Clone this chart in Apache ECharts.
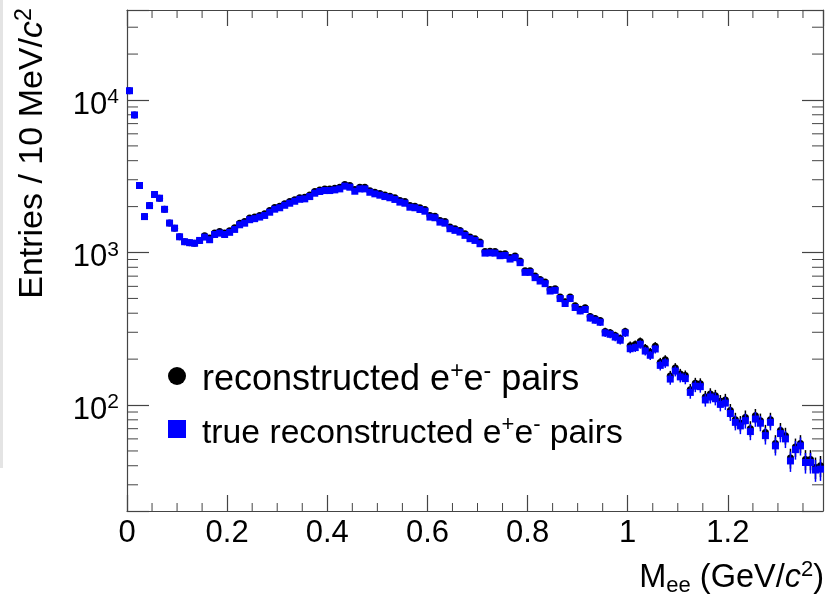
<!DOCTYPE html>
<html><head><meta charset="utf-8">
<script src="https://cdn.jsdelivr.net/npm/echarts@6/dist/echarts.min.js"></script>
<style>html,body{margin:0;padding:0;background:#fff}#c{width:827px;height:597px}</style>
</head><body><div id="c"></div>
<script>
// ---- data (entries per 10 MeV/c^2 bin) ----
const binWidth = 0.01;
const trueVals = [11500,7980,2750,1720,2030,2400,2270,1920,1560,1445,
1268,1177,1160,1150,1200,1262,1213,1312,1339,1312,
1356,1417,1520,1557,1641,1667,1707,1750,1837,1923,
1965,2040,2104,2168,2233,2248,2327,2448,2511,2548,
2548,2574,2613,2723,2680,2522,2613,2613,2483,2425,
2376,2327,2285,2228,2140,2104,1982,1965,1915,1866,
1707,1690,1582,1557,1432,1397,1362,1295,1232,1200,
1142,991,995,991,953,957,906,925,858,741,
741,684,650,625,559,565,499,463,499,436,
414,423,372,360,349,297,291,279,266,297,
234,238,250,226,212,233,182,189,148,167,
153,149,121,133,132,108,113,110,101,103,
88,77,73,79,67,81,76,63,77,54,
65,60,43,51,54,42,42,37.5,38];
const recoVals = [11500,7980,2750,1720,2030,2400,2270,1920,1560,1445,
1268,1177,1160,1150,1200,1290,1243,1345,1372,1345,
1390,1452,1558,1596,1682,1709,1750,1794,1883,1971,
2014,2091,2157,2222,2289,2304,2385,2509,2574,2612,
2612,2638,2678,2791,2747,2585,2678,2678,2545,2486,
2435,2385,2342,2284,2194,2157,2032,2014,1963,1913,
1750,1732,1622,1596,1468,1432,1396,1327,1263,1230,
1171,1016,1020,1016,977,981,929,948,879,760,
760,701,666,641,573,579,511,475,511,447,
424,434,381,369,358,304,298,286,273,304,
245,249,261,236,222,243,190,198,155,175,
160,156,126,139,138,113,118,115,106,108,
92,80,76,83,70,85,79,66,80,56,
68,63,45,53,56,44,44,39,40];
const xCenters = trueVals.map((_, i) => +(binWidth * (i + 0.5)).toFixed(3));
const xTickLabels = ['0', '0.2', '0.4', '0.6', '0.8', '1', '1.2'];
const xMinorTicks = [0.05,0.1,0.15,0.25,0.3,0.35,0.45,0.5,0.55,0.65,0.7,0.75,0.85,0.9,0.95,1.05,1.1,1.15,1.25,1.3,1.35];
const yMinorTicks = [30,40,50,60,70,80,90,200,300,400,500,600,700,800,900,2000,3000,4000,5000,6000,7000,8000,9000,20000,30000];
const seriesNames = ['reconstructed e+e- pairs', 'true reconstructed e+e- pairs'];
const legendRich = {
  'reconstructed e+e- pairs': '{a|reconstructed e}{as|+}{a|e}{as|-}{a| pairs}',
  'true reconstructed e+e- pairs': '{b|true reconstructed e}{bs|+}{b|e}{bs|-}{b| pairs}'
};

const X_MIN = 0, X_MAX = 1.39, Y_MIN = 20.2, Y_MAX = 38900;
const FONT = "'Liberation Sans', Arial, Helvetica, sans-serif";
const frameColor = '#444';

const pts = vals => vals.map((v, i) => [xCenters[i], v]);
const errs = vals => vals.map((v, i) => [xCenters[i], v - Math.sqrt(v), v + Math.sqrt(v)]);

function errRender(color) {
  return function (params, api) {
    const x = api.value(0);
    const p1 = api.coord([x, api.value(1)]);
    const p2 = api.coord([x, api.value(2)]);
    return { type: 'line', shape: { x1: p1[0], y1: p1[1], x2: p2[0], y2: p2[1] },
      style: { stroke: color, lineWidth: 1.5 } };
  };
}
function yMinorRender(params, api) {
  const cs = params.coordSys;
  const p = api.coord([X_MIN, api.value(1)]);
  const st = { stroke: frameColor, lineWidth: 1 };
  return { type: 'group', children: [
    { type: 'line', shape: { x1: cs.x, y1: p[1], x2: cs.x + 11, y2: p[1] }, style: st },
    { type: 'line', shape: { x1: cs.x + cs.width - 11, y1: p[1], x2: cs.x + cs.width, y2: p[1] }, style: st }
  ]};
}
function xMinorRender(params, api) {
  const cs = params.coordSys;
  const p = api.coord([api.value(0), Y_MIN]);
  const st = { stroke: frameColor, lineWidth: 1 };
  const yb = cs.y + cs.height;
  return { type: 'group', children: [
    { type: 'line', shape: { x1: p[0], y1: yb, x2: p[0], y2: yb - 8 }, style: st },
    { type: 'line', shape: { x1: p[0], y1: cs.y, x2: p[0], y2: cs.y + 8 }, style: st }
  ]};
}

const lineStyle = { color: frameColor, width: 1.2 };
const chart = echarts.init(document.getElementById('c'), null, { renderer: 'canvas' });
chart.setOption({
  animation: false,
  backgroundColor: '#fff',
  textStyle: { fontFamily: FONT },
  graphic: [{ type: 'rect', shape: { x: 0, y: 0, width: 3, height: 468 }, style: { fill: '#e4e4e4' }, silent: true }],
  grid: { left: 127, right: 3, top: 10, bottom: 86 },
  legend: {
    orient: 'vertical', left: 168, top: 351.5, padding: 0,
    itemWidth: 18, itemHeight: 18, itemGap: 4,
    data: [{ name: seriesNames[0], icon: 'circle' }, { name: seriesNames[1], icon: 'rect' }],
    formatter: n => legendRich[n],
    selectedMode: false,
    textStyle: { fontFamily: FONT, fontSize: 35, color: '#000', lineHeight: 40, padding: [9, 0, 0, 11],
      rich: {
        a: { fontFamily: FONT, fontSize: 36, color: '#000', lineHeight: 40 },
        as: { fontFamily: FONT, fontSize: 23, color: '#000', verticalAlign: 'top', lineHeight: 24 },
        b: { fontFamily: FONT, fontSize: 33.7, color: '#000', lineHeight: 40 },
        bs: { fontFamily: FONT, fontSize: 22, color: '#000', verticalAlign: 'top', lineHeight: 24 }
      } }
  },
  xAxis: [{
    type: 'value', min: X_MIN, max: X_MAX, interval: 0.2, position: 'bottom',
    axisLine: { show: true, onZero: false, lineStyle },
    axisTick: { show: true, inside: true, length: 16, lineStyle },
    splitLine: { show: false },
    axisLabel: { fontFamily: FONT, fontSize: 31, color: '#000', margin: 7, lineHeight: 30, showMaxLabel: false,
      formatter: v => { const k = Math.round(v / 0.2); return Math.abs(v - k * 0.2) < 1e-6 ? (xTickLabels[k] || '') : ''; } },
    name: 'M{sub|ee} (GeV/{it|c}{sup|2})', nameLocation: 'end', nameGap: 1, nameMoveOverlap: false,
    nameTextStyle: { fontFamily: FONT, fontSize: 32.5, color: '#000', align: 'right', verticalAlign: 'top',
      lineHeight: 38, padding: [48, 0, 0, 0],
      rich: { sub: { fontFamily: FONT, fontSize: 22, color: '#000', verticalAlign: 'bottom', lineHeight: 22 },
              sup: { fontFamily: FONT, fontSize: 22, color: '#000', verticalAlign: 'top', lineHeight: 22 },
              it: { fontFamily: FONT, fontSize: 32.5, color: '#000', fontStyle: 'italic', lineHeight: 38 } } }
  }, {
    type: 'value', min: X_MIN, max: X_MAX, interval: 0.2, position: 'top',
    axisLine: { show: true, onZero: false, lineStyle },
    axisTick: { show: true, inside: true, length: 16, lineStyle },
    axisLabel: { show: false }, splitLine: { show: false }
  }],
  yAxis: [{
    type: 'log', min: Y_MIN, max: Y_MAX, position: 'left',
    axisLine: { show: true, onZero: false, lineStyle },
    axisTick: { show: true, inside: true, length: 22, lineStyle },
    splitLine: { show: false },
    axisLabel: { fontFamily: FONT, fontSize: 31, color: '#000', margin: 8, lineHeight: 36, padding: [10, 0, 0, 0],
      formatter: v => { const e = Math.log10(v); return Math.abs(e - Math.round(e)) < 1e-6 ? '10{sup|' + Math.round(e) + '}' : ''; },
      rich: { sup: { fontFamily: FONT, fontSize: 21, color: '#000', verticalAlign: 'top', lineHeight: 20 } } },
    name: 'Entries / 10 MeV/{it|c}{sup|2}', nameLocation: 'middle', nameRotate: 90, nameGap: 74, nameMoveOverlap: false,
    nameTextStyle: { fontFamily: FONT, fontSize: 34, color: '#000', lineHeight: 40, padding: [0, 0, 0, 214],
      rich: { sup: { fontFamily: FONT, fontSize: 23, color: '#000', verticalAlign: 'top', lineHeight: 24 },
              it: { fontFamily: FONT, fontSize: 34, color: '#000', fontStyle: 'italic', lineHeight: 40 } } }
  }, {
    type: 'log', min: Y_MIN, max: Y_MAX, position: 'right',
    axisLine: { show: true, onZero: false, lineStyle },
    axisTick: { show: true, inside: true, length: 21, lineStyle },
    axisLabel: { show: false }, splitLine: { show: false }
  }],
  series: [
    { type: 'custom', name: 'yminor', silent: true, data: yMinorTicks.map(v => [X_MIN, v]),
      encode: { x: 0, y: 1 }, renderItem: yMinorRender, z: 1 },
    { type: 'custom', name: 'xminor', silent: true, data: xMinorTicks.map(v => [v, Y_MIN]),
      encode: { x: 0, y: 1 }, renderItem: xMinorRender, z: 1 },
    { type: 'custom', name: 'recoErr', silent: true, data: errs(recoVals), encode: { x: 0, y: [1, 2] },
      renderItem: errRender('#000'), z: 2 },
    { type: 'scatter', name: seriesNames[0], data: pts(recoVals), symbol: 'circle', symbolSize: 7,
      itemStyle: { color: '#000', opacity: 1 }, z: 3, silent: true },
    { type: 'custom', name: 'trueErr', silent: true, data: errs(trueVals), encode: { x: 0, y: [1, 2] },
      renderItem: errRender('#0000ff'), z: 4 },
    { type: 'scatter', name: seriesNames[1], data: pts(trueVals), symbol: 'rect', symbolSize: 7,
      itemStyle: { color: '#0000ff', opacity: 1 }, z: 5, silent: true }
  ]
});
</script></body></html>
